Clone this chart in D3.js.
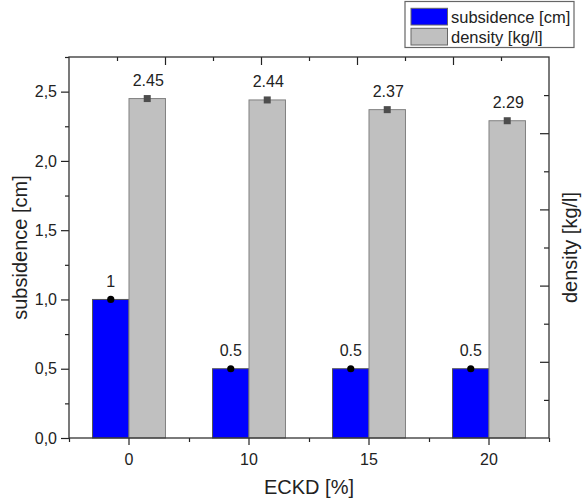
<!DOCTYPE html>
<html>
<head>
<meta charset="utf-8">
<script src="https://cdn.jsdelivr.net/npm/d3@7"></script>
<style>
  html, body { margin: 0; padding: 0; background: #fff; }
  svg { display: block; font-family: "Liberation Sans", Arial, sans-serif; }
</style>
</head>
<body>
<svg id="chart" width="583" height="500"></svg>
<script>
const categories = ["0", "10", "15", "20"];
const seriesNames = ["subsidence [cm]", "density [kg/l]"];
const subsidence = [1, 0.5, 0.5, 0.5];
const density = [2.45, 2.44, 2.37, 2.29];
const leftTicks = [0, 0.5, 1.0, 1.5, 2.0, 2.5];
const leftMinorTicks = [0.25, 0.75, 1.25, 1.75, 2.25, 2.75];
const rightTicks = [1, 2, 3, 4];
const rightMinorTicks = [0.5, 1.5, 2.5, 3.5, 4.5];
const topTicks = [1, 2, 3, 4];
const topMinorTicks = [0.5, 1.5, 2.5, 3.5, 4.5];

const colors = { sub: "#0000ff", den: "#c0c0c0" };
const ink = "#222";

const L = 69, R = 549, T = 57, B = 438;
const svg = d3.select("#chart");

const yLeft = d3.scaleLinear().domain([0, 2.75]).range([B, T]);
const yRight = d3.scaleLinear().domain([0, 5]).range([B, T]);
const xTop = d3.scaleLinear().domain([0, 5]).range([L, R]);
const x0 = d3.scaleBand().domain(categories).range([L, R]).padding(0);
const xEdge = d3.scaleLinear().domain([0, categories.length]).range([L, R]);
const x1 = d3.scaleBand().domain(["sub", "den"]).range([0, x0.bandwidth()]).paddingInner(0).paddingOuter(0.645);

function styleAxis(g) {
  g.select(".domain").remove();
  g.selectAll(".tick line").attr("stroke", ink).attr("stroke-width", 1.2);
  g.selectAll(".tick text").attr("fill", ink).style("font-size", "16px").style("font-family", "Liberation Sans, Arial, sans-serif");
}

// Bars
const groups = svg.append("g").selectAll("g").data(categories).join("g")
  .attr("transform", d => `translate(${x0(d)},0)`);

groups.append("rect")
  .attr("x", x1("sub")).attr("width", x1.bandwidth())
  .attr("y", (d, i) => yLeft(subsidence[i]))
  .attr("height", (d, i) => yLeft(0) - yLeft(subsidence[i]))
  .attr("fill", colors.sub).attr("stroke", "#555").attr("stroke-width", 1);

groups.append("rect")
  .attr("x", x1("den")).attr("width", x1.bandwidth())
  .attr("y", (d, i) => yLeft(density[i]))
  .attr("height", (d, i) => yLeft(0) - yLeft(density[i]))
  .attr("fill", colors.den).attr("stroke", "#808080").attr("stroke-width", 1);

// Markers
groups.append("circle")
  .attr("cx", x1("sub") + x1.bandwidth() / 2)
  .attr("cy", (d, i) => yLeft(subsidence[i]))
  .attr("r", 3.6).attr("fill", "#000");

groups.append("rect")
  .attr("x", x1("den") + x1.bandwidth() / 2 - 3.5)
  .attr("y", (d, i) => yLeft(density[i]) - 3.5)
  .attr("width", 7).attr("height", 7)
  .attr("fill", "#4d4d4d");

// Value labels
groups.append("text")
  .attr("x", x1("sub") + x1.bandwidth() / 2)
  .attr("y", (d, i) => yLeft(subsidence[i]) - 12.5)
  .attr("text-anchor", "middle").attr("fill", ink).style("font-size", "16px")
  .text((d, i) => String(subsidence[i]));

groups.append("text")
  .attr("x", x1("den") + x1.bandwidth() / 2 + 1)
  .attr("y", (d, i) => yLeft(density[i]) - 12.5)
  .attr("text-anchor", "middle").attr("fill", ink).style("font-size", "16px")
  .text((d, i) => String(density[i]));

// Axes
const fmtLeft = d => d3.format(".1f")(d).replace(".", ",");
svg.append("g").attr("transform", `translate(${L},0)`)
  .call(d3.axisLeft(yLeft).tickValues(leftTicks).tickSize(8).tickPadding(4).tickFormat(fmtLeft)).call(styleAxis);
svg.append("g").attr("transform", `translate(${L},0)`)
  .call(d3.axisLeft(yLeft).tickValues(leftMinorTicks).tickSize(4).tickFormat("")).call(styleAxis);

svg.append("g").attr("transform", `translate(0,${B})`)
  .call(d3.axisBottom(x0).tickSize(7).tickPadding(9)).call(styleAxis);
svg.append("g").attr("transform", `translate(0,${B})`)
  .call(d3.axisBottom(xEdge).tickValues(d3.range(categories.length + 1)).tickSize(4).tickFormat("")).call(styleAxis);

svg.append("g").attr("transform", `translate(${R},0)`)
  .call(d3.axisRight(yRight).tickValues(rightTicks).tickSize(-9).tickFormat("")).call(styleAxis);
svg.append("g").attr("transform", `translate(${R},0)`)
  .call(d3.axisRight(yRight).tickValues(rightMinorTicks).tickSize(-5).tickFormat("")).call(styleAxis);

svg.append("g").attr("transform", `translate(0,${T})`)
  .call(d3.axisTop(xTop).tickValues(topTicks).tickSize(-8).tickFormat("")).call(styleAxis);
svg.append("g").attr("transform", `translate(0,${T})`)
  .call(d3.axisTop(xTop).tickValues(topMinorTicks).tickSize(-4).tickFormat("")).call(styleAxis);

// Frame
svg.append("rect").attr("x", L).attr("y", T).attr("width", R - L).attr("height", B - T)
  .attr("fill", "none").attr("stroke", "#333").attr("stroke-width", 1.3);

// Axis titles
svg.append("text")
  .attr("transform", `translate(20,${(T + B) / 2}) rotate(-90)`)
  .attr("text-anchor", "middle").attr("dominant-baseline", "central")
  .attr("fill", ink).style("font-size", "20px").text("subsidence [cm]");

svg.append("text")
  .attr("transform", `translate(570,${(T + B) / 2}) rotate(-90)`)
  .attr("text-anchor", "middle").attr("dominant-baseline", "central")
  .attr("fill", ink).style("font-size", "20px").text("density [kg/l]");

svg.append("text")
  .attr("x", (L + R) / 2).attr("y", 494)
  .attr("text-anchor", "middle").attr("fill", ink).style("font-size", "20px").text("ECKD [%]");

// Legend
const lg = svg.append("g");
lg.append("rect").attr("x", 405).attr("y", 1.5).attr("width", 169).attr("height", 46)
  .attr("fill", "#fff").attr("stroke", "#666").attr("stroke-width", 1.2);
const legendItems = [{ name: seriesNames[0], color: colors.sub }, { name: seriesNames[1], color: colors.den }];
const li = lg.selectAll("g.item").data(legendItems).join("g").attr("class", "item")
  .attr("transform", (d, i) => `translate(411,${8.3 + i * 20})`);
li.append("rect").attr("width", 36.5).attr("height", 16.7)
  .attr("fill", d => d.color).attr("stroke", "#666").attr("stroke-width", 1);
li.append("text").attr("x", 40).attr("y", 14.2).attr("fill", ink)
  .style("font-size", "16.5px").text(d => d.name);
</script>
</body>
</html>
